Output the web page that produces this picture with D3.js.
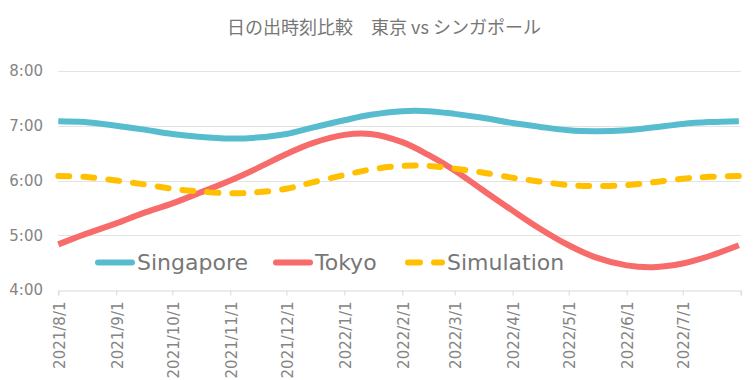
<!DOCTYPE html>
<html>
<head>
<meta charset="utf-8">
<script src="https://cdn.jsdelivr.net/npm/d3@7"></script>
<style>
  html, body { margin: 0; padding: 0; background: #fff; }
  svg { display: block; }
</style>
</head>
<body>
<svg id="chart" width="753" height="380"></svg>
<script>
const title = "日の出時刻比較　東京 vs シンガポール";
const seriesNames = ["Singapore", "Tokyo", "Simulation"];
const monthLabels = ["2021/8/1","2021/9/1","2021/10/1","2021/11/1","2021/12/1","2022/1/1",
                     "2022/2/1","2022/3/1","2022/4/1","2022/5/1","2022/6/1","2022/7/1"];
const yTickLabels = ["4:00","5:00","6:00","7:00","8:00"];

const dates = ["2021-08-01","2021-08-15","2021-09-01","2021-09-15","2021-10-01","2021-10-15",
               "2021-11-01","2021-11-15","2021-12-01","2021-12-15","2022-01-01","2022-01-15",
               "2022-02-01","2022-02-15","2022-03-01","2022-03-15","2022-04-01","2022-04-15",
               "2022-05-01","2022-05-15","2022-06-01","2022-06-15","2022-07-01","2022-07-15",
               "2022-07-31"];
const singapore = ["7:05","7:04","7:00","6:56","6:51","6:48","6:46","6:47","6:51","6:58",
                   "7:06","7:12","7:16","7:16","7:13","7:09","7:03","6:59","6:55","6:54",
                   "6:55","6:58","7:02","7:04","7:05"];
const tokyo = ["4:50","5:01","5:13","5:24","5:35","5:46","6:00","6:13","6:29","6:41",
               "6:50","6:51","6:42","6:28","6:11","5:51","5:27","5:08","4:49","4:36",
               "4:27","4:25","4:29","4:37","4:49"];
const simulation = ["6:05","6:04","6:00","5:56","5:51","5:48","5:46","5:47","5:51","5:58",
                    "6:06","6:12","6:16","6:16","6:13","6:09","6:03","5:59","5:55","5:54",
                    "5:55","5:58","6:02","6:04","6:05"];

const colors = { Singapore: "#58bccf", Tokyo: "#f76b6b", Simulation: "#ffc000" };

const parseDate = s => { const [yy,m,d] = s.split("-").map(Number); return new Date(yy, m-1, d); };
const parseTime = s => { const [h,m] = s.split(":").map(Number); return h + m/60; };
const parseLabel = s => { const [yy,m,d] = s.split("/").map(Number); return new Date(yy, m-1, d); };

const svg = d3.select("#chart");
const plotLeft = 58.3, plotRight = 740.7, plotTop = 71, plotBottom = 290;

const x = d3.scaleTime()
  .domain([new Date(2021,7,1), new Date(2022,7,1)])
  .range([plotLeft, plotRight]);
const y = d3.scaleLinear()
  .domain([4, 8])
  .range([plotBottom, plotTop]);

// Title
svg.append("text")
  .attr("x", 384).attr("y", 28).attr("dy", "0.35em")
  .attr("text-anchor", "middle")
  .style("font-family", "'Noto Sans CJK JP', sans-serif")
  .style("font-size", "18px")
  .style("fill", "#767676")
  .text(title);

// Gridlines
const yVals = yTickLabels.map(parseTime);
svg.append("g").selectAll("line")
  .data(yVals.filter(v => v > 4))
  .join("line")
  .attr("x1", plotLeft).attr("x2", plotRight)
  .attr("y1", d => Math.round(y(d)) + 0.5).attr("y2", d => Math.round(y(d)) + 0.5)
  .attr("stroke", "#e3e3e3").attr("stroke-width", 1);

// Y labels
svg.append("g").selectAll("text")
  .data(yTickLabels)
  .join("text")
  .attr("x", 43).attr("y", d => y(parseTime(d))).attr("dy", "0.35em")
  .attr("text-anchor", "end")
  .style("font-family", "'DejaVu Sans', sans-serif")
  .style("font-size", "15px")
  .style("fill", "#858585")
  .text(d => d);

// X axis
const tickDates = monthLabels.map(parseLabel).concat([new Date(2022,7,1)]);
const xAxis = d3.axisBottom(x)
  .tickValues(tickDates)
  .tickSize(5)
  .tickFormat((d, i) => i < monthLabels.length ? monthLabels[i] : "");
const gx = svg.append("g")
  .attr("transform", `translate(0,${plotBottom + 0.5})`)
  .call(xAxis);
gx.select(".domain").attr("stroke", "#d9d9d9");
gx.selectAll(".tick line").attr("stroke", "#d9d9d9");
gx.selectAll(".tick text")
  .attr("transform", "rotate(-90)")
  .attr("x", -11).attr("y", 1).attr("dy", "0.35em")
  .attr("text-anchor", "end")
  .style("font-family", "'DejaVu Sans', sans-serif")
  .style("font-size", "15px")
  .style("fill", "#858585");

// Lines
const line = d3.line()
  .x(d => x(d.date))
  .y(d => y(d.v))
  .curve(d3.curveCatmullRom.alpha(0.5));

const seriesData = {
  Singapore: singapore, Tokyo: tokyo, Simulation: simulation
};
seriesNames.forEach(name => {
  const pts = dates.map((d, i) => ({ date: parseDate(d), v: parseTime(seriesData[name][i]) }));
  const p = svg.append("path")
    .datum(pts)
    .attr("d", line)
    .attr("fill", "none")
    .attr("stroke", colors[name])
    .attr("stroke-width", 6)
    .attr("stroke-linejoin", "round")
    .attr("stroke-linecap", name === "Simulation" ? "round" : "butt");
  if (name === "Simulation") p.attr("stroke-dasharray", "11,14");
});

// Legend
const legendItems = [
  { name: "Singapore", x: 98 },
  { name: "Tokyo", x: 276 },
  { name: "Simulation", x: 408 }
];
const ly = 262.5;
const lg = svg.append("g");
legendItems.forEach(it => {
  const l = lg.append("line")
    .attr("x1", it.x).attr("x2", it.x + 34)
    .attr("y1", ly).attr("y2", ly)
    .attr("stroke", colors[it.name])
    .attr("stroke-width", 6)
    .attr("stroke-linecap", "round");
  if (it.name === "Simulation") l.attr("stroke-dasharray", "12,14");
  lg.append("text")
    .attr("x", it.x + 39).attr("y", ly).attr("dy", "0.35em")
    .style("font-family", "'DejaVu Sans', sans-serif")
    .style("font-size", "22px")
    .style("fill", "#777777")
    .text(it.name);
});
</script>
</body>
</html>
